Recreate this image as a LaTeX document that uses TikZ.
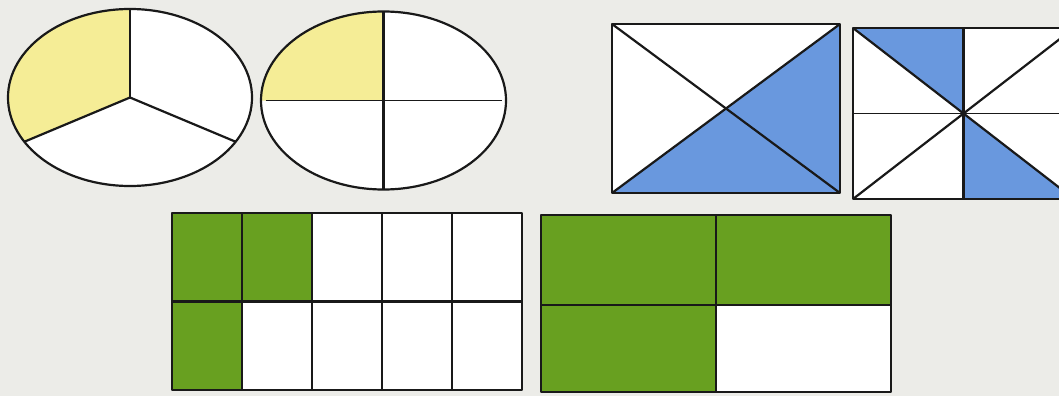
\documentclass[tikz,border=0pt]{standalone}
\usetikzlibrary{calc}
\definecolor{paper}{RGB}{236,236,232}
\definecolor{pyellow}{RGB}{245,237,150}
\definecolor{pblue}{RGB}{105,152,222}
\definecolor{pgreen}{RGB}{104,160,32}
\definecolor{pline}{RGB}{25,25,25}
\tikzset{
  edge/.style={draw=pline, line width=2.2pt, line join=round},
  thin edge/.style={draw=pline, line width=1.5pt},
}
\begin{document}
\begin{tikzpicture}[x=1pt,y=-1pt]
\fill[paper] (0,0) rectangle (1059,396);
\useasboundingbox (0,0) rectangle (1059,396);
\clip (0,0) rectangle (1059,396);

% ---- ellipse 1 (thirds) ----
\coordinate (e1) at (130,97.5);
\fill[white] (e1) ellipse [x radius=122, y radius=88.5];
\fill[pyellow] (e1) -- ($(e1)+(270:122 and 88.5)$)
  arc[start angle=270, end angle=150, x radius=122, y radius=88.5] -- cycle;
\draw[edge] (e1) ellipse [x radius=122, y radius=88.5];
\draw[edge] (e1) -- ($(e1)+(270:122 and 88.5)$);
\draw[edge] (e1) -- ($(e1)+(150:122 and 88.5)$);
\draw[edge] (e1) -- ($(e1)+(30:122 and 88.5)$);

% ---- ellipse 2 (quarters) ----
\coordinate (e2) at (383.5,100.5);
\fill[white] (e2) ellipse [x radius=122.5, y radius=89];
\fill[pyellow] (e2) -- ($(e2)+(180:122.5 and 89)$)
  arc[start angle=180, end angle=270, x radius=122.5, y radius=89] -- cycle;
\draw[edge] (e2) ellipse [x radius=122.5, y radius=89];
\draw[edge] ($(e2)+(270:122.5 and 89)$) -- ($(e2)+(90:122.5 and 89)$);
\draw[thin edge] ($(e2)+(180:118 and 89)$) -- ($(e2)+(0:118 and 89)$);

% ---- rectangle 1 (diagonals) ----
\coordinate (a1) at (612,24);
\coordinate (b1) at (840,24);
\coordinate (c1) at (840,193);
\coordinate (d1) at (612,193);
\fill[white] (a1) rectangle (c1);
\fill[pblue] (d1) -- (c1) -- (b1) -- cycle;
\draw[edge] (a1) rectangle (c1);
\draw[edge] (a1) -- (c1);
\draw[edge] (d1) -- (b1);

% ---- rectangle 2 (eighths) ----
\coordinate (a2) at (853,28);
\coordinate (b2) at (1074,28);
\coordinate (c2) at (1074,199);
\coordinate (d2) at (853,199);
\coordinate (m2) at ($(a2)!.5!(c2)$);
\coordinate (t2) at ($(a2)!.5!(b2)$);
\coordinate (u2) at ($(d2)!.5!(c2)$);
\coordinate (l2) at ($(a2)!.5!(d2)$);
\coordinate (r2) at ($(b2)!.5!(c2)$);
\fill[white] (a2) rectangle (c2);
\fill[pblue] (a2) -- (t2) -- (m2) -- cycle;
\fill[pblue] (m2) -- (u2) -- (c2) -- cycle;
\draw[edge] (a2) rectangle (c2);
\draw[edge] (a2) -- (c2);
\draw[edge] (d2) -- (b2);
\draw[edge] (t2) -- (u2);
\draw[thin edge] (l2) -- (r2);
\fill[pline] (m2) circle (2.5);

% ---- green grid 1 (tenths) ----
\coordinate (g1) at (172,213);
\fill[white] (172,213) rectangle (522,390);
\fill[pgreen] (172,213) rectangle (312,301.5);
\fill[pgreen] (172,301.5) rectangle (242,390);
\foreach \i in {1,2,3,4} {
  \draw[edge] ($(g1)+(70*\i,0)$) -- ($(g1)+(70*\i,177)$);
}
\draw[edge] (172,301.5) -- (522,301.5);
\draw[edge] (172,213) rectangle (522,390);

% ---- green grid 2 (quarters) ----
\fill[white] (541,215) rectangle (891,392);
\fill[pgreen] (541,215) rectangle (891,305);
\fill[pgreen] (541,305) rectangle (716,392);
\draw[edge] (716,215) -- (716,392);
\draw[edge] (541,305) -- (891,305);
\draw[edge] (541,215) rectangle (891,392);
\end{tikzpicture}
\end{document}
